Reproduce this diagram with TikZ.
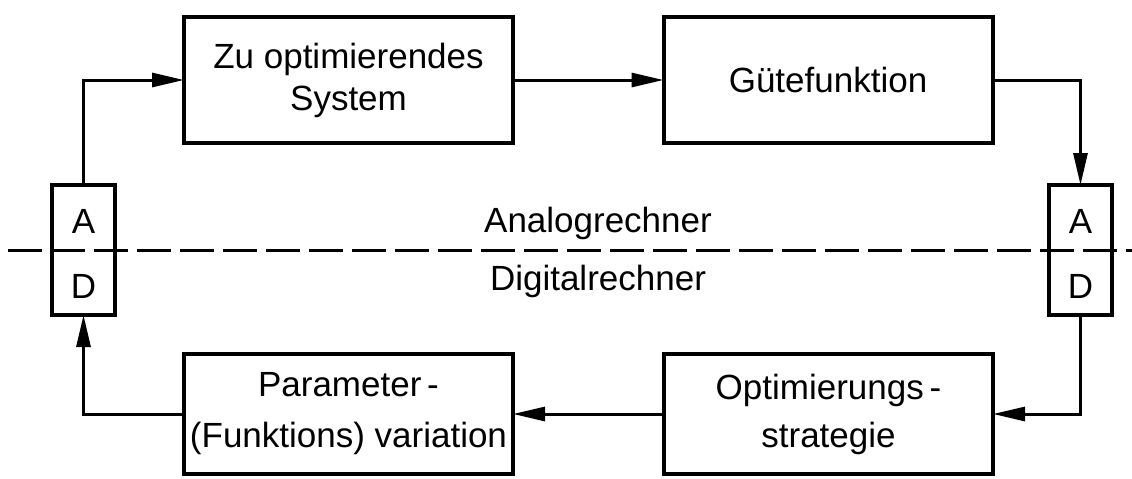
\documentclass[tikz,border=0pt]{standalone}
\usepackage{fontspec}
\setmainfont{Liberation Sans}
\usetikzlibrary{arrows.meta}

\begin{document}
\begin{tikzpicture}[x=0.5pt, y=-0.5pt,
    block/.style={draw, line width=2pt, minimum width=164.5pt, minimum height=63pt,
        inner sep=0pt, outer sep=0pt, align=center, font=\fontsize{17.5}{23}\selectfont},
    wandler/.style={draw, line width=2pt, minimum width=31.5pt, minimum height=65pt,
        inner sep=0pt, outer sep=0pt},
    txt/.style={font=\fontsize{17.5}{23}\selectfont, inner sep=0pt, anchor=base},
    pfeil/.style={line width=1.5pt, -{Triangle[length=16pt, width=7pt]}}]
    \useasboundingbox (0,0) rectangle (1132,478);

    \node[block] (sys) at (348.5,80) {Zu optimierendes\\[-2pt]System};
    \node[block] (guete) at (828,80) {Gütefunktion};
    \node[block, minimum height=60pt] (param) at (348.5,414) {Parameter\,-\\[2.5pt](Funktions) variation};
    \node[block, minimum height=60pt] (strat) at (828.5,414) {Optimierungs\,-\\[1pt]strategie};

    \node[wandler] (adl) at (83.5,250) {};
    \node[wandler] (adr) at (1080.5,250) {};
    \node[txt] (al) at (83.5,233) {A};
    \node[txt] (dl) at (83.5,298) {D};
    \node[txt] (ar) at (1080.5,233) {A};
    \node[txt] (dr) at (1080.5,298) {D};

    \draw[line width=1.5pt, dash pattern=on 17pt off 4.5pt] (8,250) -- (1132,250);
    \node[txt] (analog) at (598,232) {Analogrechner};
    \node[txt] (digital) at (598,290) {Digitalrechner};

    \draw[pfeil] (adl.north) |- (sys.west);
    \draw[pfeil] (sys) -- (guete);
    \draw[pfeil] (guete.east) -| (adr.north);
    \draw[pfeil] (adr.south) |- (strat.east);
    \draw[pfeil] (strat) -- (param);
    \draw[pfeil] (param.west) -| (adl.south);
\end{tikzpicture}
\end{document}
